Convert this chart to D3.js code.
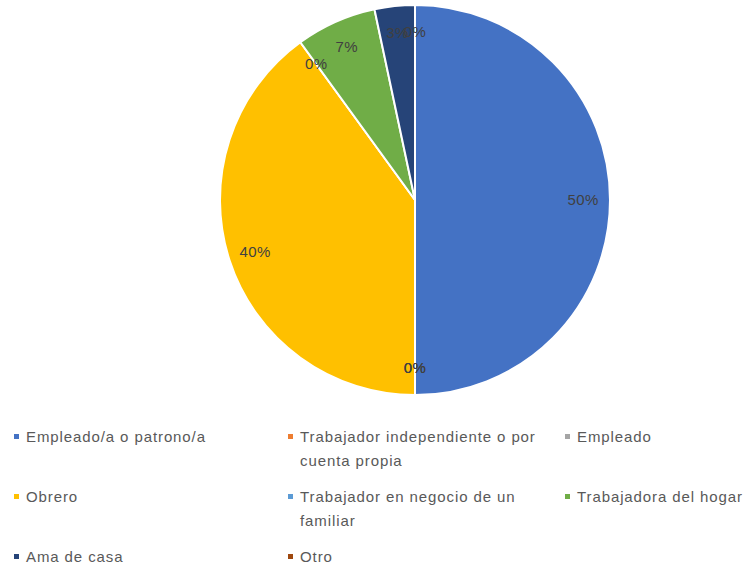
<!DOCTYPE html>
<html>
<head>
<meta charset="utf-8">
<script src="https://cdn.jsdelivr.net/npm/d3@7"></script>
<style>
  body { margin: 0; background: #fff; }
  text { font-family: "Liberation Sans", Arial, sans-serif; }
</style>
</head>
<body>
<div id="chart"></div>
<script>
// categories and counts (shares: 50%, 0, 0, 40%, 0, 7%, 3%, 0)
var categories = [
  'Empleado/a o patrono/a',
  'Trabajador independiente o por cuenta propia',
  'Empleado',
  'Obrero',
  'Trabajador en negocio de un familiar',
  'Trabajadora del hogar',
  'Ama de casa',
  'Otro'
]
var counts = [15, 0, 0, 12, 0, 2, 1, 0]
var colors = ['#4472C4', '#ED7D31', '#A5A5A5', '#FFC000', '#5B9BD5', '#70AD47', '#264478', '#9E480E']

var width = 750
var height = 567
var cx = 415
var cy = 200
var radius = 195
var labelRadius = 168

var svg = d3.select('#chart')
  .append('svg')
  .attr('width', width)
  .attr('height', height)

var data = categories.map((c, i) => ({ name: c, value: counts[i], color: colors[i] }))
var total = d3.sum(counts)

var pie = d3.pie().sort(null).value(d => d.value)
var arcs = pie(data)
var arc = d3.arc().innerRadius(0).outerRadius(radius)
var labelArc = d3.arc().innerRadius(labelRadius).outerRadius(labelRadius)

var g = svg.append('g').attr('transform', `translate(${cx},${cy})`)

g.selectAll('path')
  .data(arcs)
  .enter()
  .append('path')
  .attr('d', arc)
  .attr('fill', d => d.data.color)
  .attr('stroke', '#fff')
  .attr('stroke-width', 2)

// percentage labels
g.selectAll('text.pct')
  .data(arcs)
  .enter()
  .append('text')
  .attr('class', 'pct')
  .attr('transform', d => `translate(${labelArc.centroid(d)})`)
  .attr('text-anchor', 'middle')
  .attr('dy', '0.35em')
  .attr('font-size', 15)
  .attr('letter-spacing', 0.4)
  .attr('fill', '#404040')
  .text(d => Math.round(d.data.value / total * 100) + '%')

// legend, three columns
var colX = [14, 288, 565]
var rowY = [437, 497, 557]
var textOffset = 12
var colWidth = 258
var lineHeight = 24

var legend = svg.append('g').attr('class', 'legend')
data.forEach((d, i) => {
  var x = colX[i % 3]
  var y = rowY[Math.floor(i / 3)]
  var item = legend.append('g').attr('transform', `translate(${x},${y})`)
  item.append('rect')
    .attr('x', 0)
    .attr('y', -3)
    .attr('width', 5)
    .attr('height', 5)
    .attr('fill', d.color)
  var text = item.append('text')
    .attr('x', textOffset)
    .attr('y', 0)
    .attr('font-size', 15)
    .attr('letter-spacing', 0.9)
    .attr('fill', '#595959')
  // simple word wrap
  var words = d.name.split(' ')
  var line = []
  var tspan = text.append('tspan').attr('x', textOffset).attr('dy', '0.35em')
  words.forEach(w => {
    line.push(w)
    tspan.text(line.join(' '))
    if (tspan.node().getComputedTextLength() > colWidth && line.length > 1) {
      line.pop()
      tspan.text(line.join(' '))
      line = [w]
      tspan = text.append('tspan').attr('x', textOffset).attr('dy', lineHeight).text(w)
    }
  })
})
</script>
</body>
</html>
